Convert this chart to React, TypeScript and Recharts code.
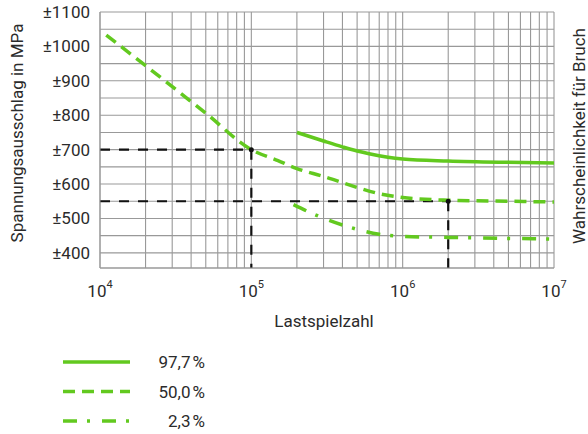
import React from 'react';
import {
  LineChart,
  Line,
  XAxis,
  YAxis,
  CartesianGrid,
  ReferenceLine,
  ReferenceDot,
} from 'recharts';

// Wöhler curve, log x axis (Lastspielzahl), stress amplitude in MPa
const xTicks = [
  10000, 20000, 30000, 40000, 50000, 60000, 70000, 80000, 90000,
  100000, 200000, 300000, 400000, 500000, 600000, 700000, 800000, 900000,
  1000000, 2000000, 3000000, 4000000, 5000000, 6000000, 7000000, 8000000, 9000000,
  10000000,
];
const yTicks = [400, 450, 500, 550, 600, 650, 700, 750, 800, 850, 900, 950, 1000, 1050, 1100];

const n977 = [200000, 300000, 400000, 500000, 600000, 800000, 1000000, 2000000, 5000000, 10000000];
const s977 = [750, 725, 708, 696, 688, 678, 673, 667, 663, 661];

const n500 = [11000, 20000, 50000, 100000, 150000, 200000, 300000, 500000, 700000, 1000000, 2000000, 5000000, 10000000];
const s500 = [1033, 944, 806, 700, 668, 645, 622, 590, 572, 561, 553, 550, 548];

const n023 = [190000, 270000, 450000, 700000, 1000000, 2000000, 5000000, 10000000];
const s023 = [540, 509, 474, 454, 448, 445, 442, 440];

const legendLabels = ['97,7\u202F%', '50,0\u202F%', '2,3\u202F%'];

// read-off guides: N at 700 MPa and at 550 MPa
const guideN = [100000, 2000000];
const guideS = [700, 550];

const GREEN = '#62c91f';
const GRID = '#999999';
const TEXT = '#2b2b2b';
const FONT = 'Roboto, "Liberation Sans", sans-serif';
const DASHES = ['', '12 7', '14 10 3 12'];

const toRows = (xs: number[], ys: number[]) => xs.map((n, i) => ({ n, s: ys[i] }));

function XTick({ x, y, payload }: any) {
  const v = payload.value as number;
  const e = Math.log10(v);
  if (Math.abs(e - Math.round(e)) > 1e-9) return null;
  return (
    <text x={x} y={y + 29} textAnchor="middle" fontSize={17} fill={TEXT} fontFamily={FONT}>
      10
      <tspan dy={-9} fontSize={11}>
        {Math.round(e)}
      </tspan>
    </text>
  );
}

function YTick({ x, y, payload }: any) {
  const v = payload.value as number;
  if (v % 100 !== 0) return null;
  return (
    <text x={x} y={y} dy={6} textAnchor="end" fontSize={17} fill={TEXT} fontFamily={FONT}>
      ±{v}
    </text>
  );
}

export default function App() {
  const series = [toRows(n977, s977), toRows(n500, s500), toRows(n023, s023)];
  const minY = 356;

  return (
    <div style={{ position: 'absolute', left: 0, top: 0, width: 588, height: 434, background: '#fff' }}>
      <LineChart
        width={588}
        height={434}
        margin={{ top: 12, right: 34, left: 8, bottom: 126 }}
      >
        <CartesianGrid stroke={GRID} strokeWidth={1.1} />
        <XAxis
          dataKey="n"
          type="number"
          scale="log"
          domain={[10000, 10000000]}
          ticks={xTicks}
          interval={0}
          allowDataOverflow
          tick={<XTick />}
          tickLine={false}
          tickSize={0}
          tickMargin={0}
          axisLine={{ stroke: GRID }}
          height={40}
        />
        <YAxis
          type="number"
          domain={[minY, 1100]}
          ticks={yTicks}
          interval={0}
          allowDataOverflow
          tick={<YTick />}
          tickLine={false}
          tickSize={0}
          tickMargin={10}
          axisLine={{ stroke: GRID }}
          width={92}
        />

        {guideN.map((n, i) => (
          <ReferenceLine
            key={'h' + i}
            segment={[{ x: 10000, y: guideS[i] }, { x: n, y: guideS[i] }]}
            stroke="#111"
            strokeWidth={2.2}
            strokeDasharray="10 9"
          />
        ))}
        {guideN.map((n, i) => (
          <ReferenceLine
            key={'v' + i}
            segment={[{ x: n, y: guideS[i] }, { x: n, y: minY }]}
            stroke="#111"
            strokeWidth={2.2}
            strokeDasharray="10 9"
          />
        ))}
        {guideN.map((n, i) => (
          <ReferenceDot key={'d' + i} x={n} y={guideS[i]} r={2.5} fill="#111" stroke="none" />
        ))}

        {series.map((rows, i) => (
          <Line
            key={i}
            data={rows}
            dataKey="s"
            type="monotone"
            stroke={GREEN}
            strokeWidth={3.5}
            strokeDasharray={DASHES[i] || undefined}
            dot={false}
            activeDot={false}
            isAnimationActive={false}
          />
        ))}
      </LineChart>

      <svg
        width={588}
        height={434}
        style={{ position: 'absolute', left: 0, top: 0, pointerEvents: 'none' }}
        fontFamily={FONT}
        fill={TEXT}
      >
        <text x={23} y={133} fontSize={17} textAnchor="middle" transform="rotate(-90 23 133)">
          Spannungsausschlag in MPa
        </text>
        <text x={585} y={136} fontSize={17} textAnchor="middle" transform="rotate(-90 585 136)">
          Wahrscheinlichkeit für Bruch
        </text>
        <text x={324} y={327} fontSize={17} textAnchor="middle">
          Lastspielzahl
        </text>
        {legendLabels.map((label, i) => (
          <g key={label}>
            <line
              x1={63}
              x2={130}
              y1={362 + i * 29.5}
              y2={362 + i * 29.5}
              stroke={GREEN}
              strokeWidth={3.5}
              strokeDasharray={DASHES[i] || undefined}
            />
            <text x={205} y={368 + i * 29.5} fontSize={17} textAnchor="end">
              {label}
            </text>
          </g>
        ))}
      </svg>
    </div>
  );
}
